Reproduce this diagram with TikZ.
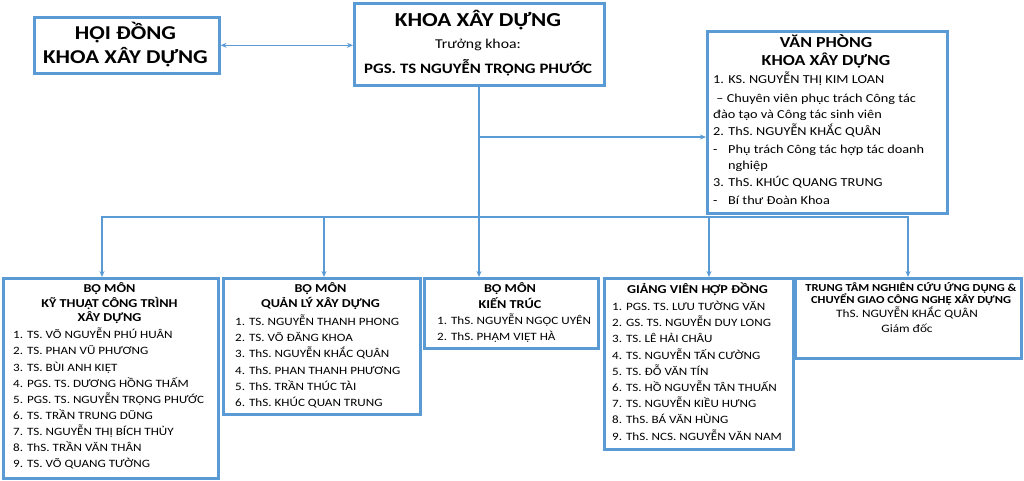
\documentclass[tikz,border=0pt]{standalone}
\usepackage{fontspec}
\setmainfont[FakeStretch=1.17]{Carlito}
\usetikzlibrary{arrows.meta}
\definecolor{bdr}{RGB}{91,155,213}
\begin{document}
\begin{tikzpicture}[x=1pt,y=-1pt,
  box/.style={draw=bdr, line width=2.6pt, fill=white, inner sep=0pt, anchor=north west},
  conn/.style={draw=bdr, line width=1.1pt, -{Stealth[length=6pt,width=5pt]}},
  dconn/.style={draw=bdr, line width=1.1pt, {Stealth[length=6pt,width=5pt]}-{Stealth[length=6pt,width=5pt]}},
  tx/.style={inner sep=0pt, anchor=base},
  item/.style={inner sep=0pt, anchor=base west, font=\fontsize{11.2}{13}\selectfont},
  head/.style={inner sep=0pt, anchor=base, font=\fontsize{12.1}{14}\selectfont\bfseries},
  oitem/.style={inner sep=0pt, anchor=base west, font=\fontsize{12.2}{14}\selectfont}]
\useasboundingbox (0,0) rectangle (1024,481);
\fill[white] (0,0) rectangle (1024,481);

% boxes
\node[box, minimum width=185pt, minimum height=56pt] (hoi) at (33,16) {};
\node[box, minimum width=250pt, minimum height=82pt] (khoa) at (353,2) {};
\node[box, minimum width=240pt, minimum height=182pt] (vp) at (706,30) {};
\node[box, minimum width=215pt, minimum height=200pt] (b1) at (2,277) {};
\node[box, minimum width=197pt, minimum height=136pt] (b2) at (222,277) {};
\node[box, minimum width=174pt, minimum height=70pt] (b3) at (423,277) {};
\node[box, minimum width=189pt, minimum height=171pt] (b4) at (603,277) {};
\node[box, minimum width=226pt, minimum height=80pt] (b5) at (794,277) {};

% connectors
\coordinate (jn) at (479,137);
\coordinate (bus) at (479,217);
\draw[dconn] (hoi.east) -- (khoa.west |- hoi.east);
\draw[draw=bdr, line width=1.1pt] (479,0 |- khoa.south) -- (bus);
\draw[conn] (jn) -- (jn -| vp.west);
\draw[conn] (bus) -| (102,0 |- b1.north);
\draw[conn] (bus) -| (324,0 |- b2.north);
\draw[conn] (bus) -- (479,0 |- b3.north);
\draw[conn] (bus) -| (709,0 |- b4.north);
\draw[conn] (bus) -| (908,0 |- b5.north);

% HOI DONG
\node[tx, font=\fontsize{19.6}{24}\selectfont\bfseries] (h1) at (125.5,40) {HỘI ĐỒNG};
\node[tx, font=\fontsize{19.6}{24}\selectfont\bfseries] (h2) at (125.5,63.3) {KHOA XÂY DỰNG};

% KHOA
\node[tx, font=\fontsize{19.8}{24}\selectfont\bfseries] (k1) at (478,26.7) {KHOA XÂY DỰNG};
\node[tx, font=\fontsize{13.5}{16}\selectfont] (k2) at (478,48.3) {Trưởng khoa:};
\node[tx, font=\fontsize{14.4}{17}\selectfont\bfseries] (k3) at (478,74) {PGS. TS NGUYỄN TRỌNG PHƯỚC};

% VAN PHONG
\node[tx, font=\fontsize{15.3}{18}\selectfont\bfseries] (v1) at (826,48) {VĂN PHÒNG};
\node[tx, font=\fontsize{15.3}{18}\selectfont\bfseries] (v2) at (826,65.7) {KHOA XÂY DỰNG};
\node[oitem] (v3) at (713,84) {1. KS. NGUYỄN THỊ KIM LOAN};
\node[oitem] (v4) at (713,103) {\ – Chuyên viên phục trách Công tác};
\node[oitem] (v5) at (713,119) {đào tạo và Công tác sinh viên};
\node[oitem] (v6) at (713,136) {2. ThS. NGUYỄN KHẮC QUÂN};
\node[oitem] (v7) at (713,154) {-};
\node[oitem] (v7b) at (728,154) {Phụ trách Công tác hợp tác doanh};
\node[oitem] (v8) at (728,169) {nghiệp};
\node[oitem] (v9) at (713,186) {3. ThS. KHÚC QUANG TRUNG};
\node[oitem] (v10) at (713,204) {-};
\node[oitem] (v10b) at (728,204) {Bí thư Đoàn Khoa};

% Box 1
\node[head] (b1h1) at (109.5,292.7) {BỘ MÔN};
\node[head] (b1h2) at (109.5,307.7) {KỸ THUẬT CÔNG TRÌNH};
\node[head] (b1h3) at (109.5,321.3) {XÂY DỰNG};
\foreach \s [count=\i] in {1. TS. VÕ NGUYỄN PHÚ HUÂN, 2. TS. PHAN VŨ PHƯƠNG, 3. TS. BÙI ANH KIỆT, 4. PGS. TS. DƯƠNG HỒNG THẤM, 5. PGS. TS. NGUYỄN TRỌNG PHƯỚC, 6. TS. TRẦN TRUNG DŨNG, 7. TS. NGUYỄN THỊ BÍCH THỦY, 8. ThS. TRẦN VĂN THÂN, 9. TS. VÕ QUANG TƯỜNG}
  \node[item, name=b1i\i] at (13,{338.7+16.15*(\i-1)}) {\s};

% Box 2
\node[head] (b2h1) at (320.5,292.7) {BỘ MÔN};
\node[head] (b2h2) at (320.5,307.7) {QUẢN LÝ XÂY DỰNG};
\foreach \s [count=\i] in {1. TS. NGUYỄN THANH PHONG, 2. TS. VÕ ĐĂNG KHOA, 3. ThS. NGUYỄN KHẮC QUÂN, 4. ThS. PHAN THANH PHƯƠNG, 5. ThS. TRẦN THÚC TÀI, 6. ThS. KHÚC QUAN TRUNG}
  \node[item, name=b2i\i] at (235,{325.5+16.2*(\i-1)}) {\s};

% Box 3
\node[head] (b3h1) at (510,292.7) {BỘ MÔN};
\node[head] (b3h2) at (510,308) {KIẾN TRÚC};
\node[item] (b3i1) at (437,324.5) {1. ThS. NGUYỄN NGỌC UYÊN};
\node[item] (b3i2) at (437,340.5) {2. ThS. PHẠM VIỆT HÀ};

% Box 4
\node[head] (b4h1) at (697.5,293.5) {GIẢNG VIÊN HỢP ĐỒNG};
\foreach \s [count=\i] in {1. PGS. TS. LƯU TƯỜNG VĂN, 2. GS. TS. NGUYỄN DUY LONG, 3. TS. LÊ HẢI CHÂU, 4. TS. NGUYỄN TẤN CƯỜNG, 5. TS. ĐỖ VĂN TÍN, 6. TS. HỒ NGUYỄN TÂN THUẤN, 7. TS. NGUYỄN KIỀU HƯNG, 8. ThS. BÁ VĂN HÙNG, 9. ThS. NCS. NGUYỄN VĂN NAM}
  \node[item, name=b4i\i] at (612,{310.5+16.2*(\i-1)}) {\s};

% Box 5
\node[tx, font=\fontsize{10.7}{13}\selectfont\bfseries] (b5h1) at (911,291.3) {TRUNG TÂM NGHIÊN CỨU ỨNG DỤNG \&};
\node[tx, font=\fontsize{10.7}{13}\selectfont\bfseries] (b5h2) at (911,303) {CHUYỂN GIAO CÔNG NGHỆ XÂY DỰNG};
\node[tx, font=\fontsize{11.3}{13}\selectfont] (b5l1) at (907,317) {ThS. NGUYỄN KHẮC QUÂN};
\node[tx, font=\fontsize{11.3}{13}\selectfont] (b5l2) at (907,332) {Giám đốc};
\end{tikzpicture}
\end{document}
